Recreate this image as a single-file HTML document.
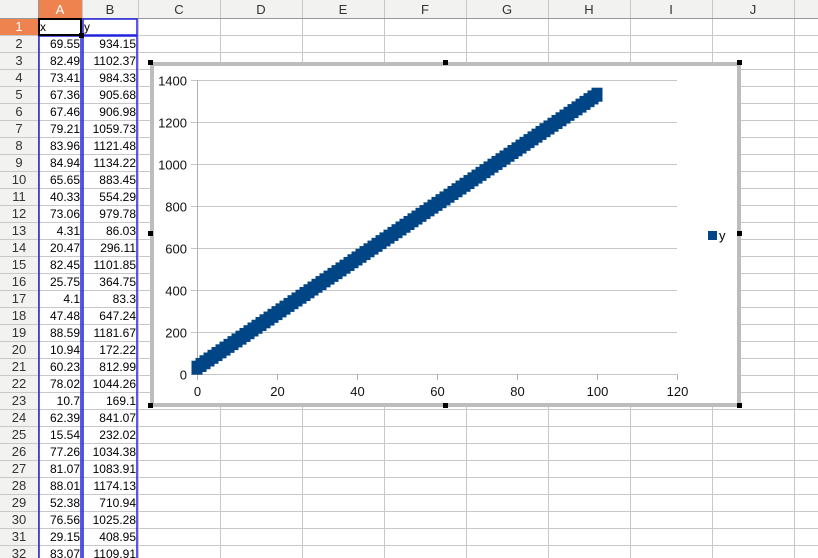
<!DOCTYPE html>
<html><head><meta charset="utf-8"><style>
body{margin:0;width:818px;height:558px;overflow:hidden;background:#fff;font-family:"Liberation Sans",sans-serif;}
svg{display:block}
</style></head><body>
<svg id="s" width="818" height="558"></svg>
<script>
const colNames=['A','B','C','D','E','F','G','H','I','J',''];
const colX=[38,82,138,220,302,384,466,548,630,712,794,818];
const tableX=[69.55,82.49,73.41,67.36,67.46,79.21,83.96,84.94,65.65,40.33,73.06,4.31,20.47,82.45,25.75,4.1,47.48,88.59,10.94,60.23,78.02,10.7,62.39,15.54,77.26,81.07,88.01,52.38,76.56,29.15,83.07];
const tableY=[934.15,1102.37,984.33,905.68,906.98,1059.73,1121.48,1134.22,883.45,554.29,979.78,86.03,296.11,1101.85,364.75,83.3,647.24,1181.67,172.22,812.99,1044.26,169.1,841.07,232.02,1034.38,1083.91,1174.13,710.94,1025.28,408.95,1109.91];
const seriesX=[0,1,2,3,4,5,6,7,8,9,10,11,12,13,14,15,16,17,18,19,20,21,22,23,24,25,26,27,28,29,30,31,32,33,34,35,36,37,38,39,40,41,42,43,44,45,46,47,48,49,50,51,52,53,54,55,56,57,58,59,60,61,62,63,64,65,66,67,68,69,70,71,72,73,74,75,76,77,78,79,80,81,82,83,84,85,86,87,88,89,90,91,92,93,94,95,96,97,98,99,100];
const seriesY=[30,43,56,69,82,95,108,121,134,147,160,173,186,199,212,225,238,251,264,277,290,303,316,329,342,355,368,381,394,407,420,433,446,459,472,485,498,511,524,537,550,563,576,589,602,615,628,641,654,667,680,693,706,719,732,745,758,771,784,797,810,823,836,849,862,875,888,901,914,927,940,953,966,979,992,1005,1018,1031,1044,1057,1070,1083,1096,1109,1122,1135,1148,1161,1174,1187,1200,1213,1226,1239,1252,1265,1278,1291,1304,1317,1330];
const xTicks=[0,20,40,60,80,100,120];
const yTicks=[0,200,400,600,800,1000,1200,1400];

const NS='http://www.w3.org/2000/svg';
const s=document.getElementById('s');
function mk(t,a,p){const e=document.createElementNS(NS,t);for(const k in a)e.setAttribute(k,a[k]);(p||s).appendChild(e);return e;}
const RH=17,TOP=18;
mk('rect',{x:0,y:0,width:818,height:TOP,fill:'#f2f2f0'});
mk('rect',{x:0,y:0,width:38,height:558,fill:'#f2f2f0'});
mk('rect',{x:38,y:0,width:44,height:TOP,fill:'#ef8350'});
mk('rect',{x:0,y:TOP,width:38,height:RH,fill:'#ef8350'});
for(let i=0;i<colX.length;i++){
  mk('line',{x1:colX[i]+.5,y1:0,x2:colX[i]+.5,y2:558,stroke:i==0?'#999':'#c8c8c8'});
}
for(let r=0;r<=32;r++){const y=TOP+r*RH+.5;mk('line',{x1:0,y1:y,x2:818,y2:y,stroke:r==0?'#999':'#c8c8c8'});}
for(let i=0;i<colNames.length;i++){
  const t=mk('text',{x:(colX[i]+colX[i+1])/2,y:14,'text-anchor':'middle','font-size':13,fill:i==0?'#fff':'#333'});t.textContent=colNames[i];
  
  
}
for(let r=1;r<=32;r++){
  const t=mk('text',{x:19,y:TOP+r*RH-4,'text-anchor':'middle','font-size':13,fill:r==1?'#fff':'#333'});t.textContent=r;
  
  
}
let h=mk('text',{x:40,y:TOP+13,'font-size':12});h.textContent='x';

h=mk('text',{x:84,y:TOP+13,'font-size':12});h.textContent='y';

for(let i=0;i<tableX.length;i++){
  const y=TOP+(i+2)*RH-4;
  let a=mk('text',{x:80,y:y,'text-anchor':'end','font-size':12});a.textContent=tableX[i];
  
  let b=mk('text',{x:136,y:y,'text-anchor':'end','font-size':12});b.textContent=tableY[i];
  
}
mk('rect',{x:39,y:36,width:42,height:540,fill:'none',stroke:'#2222dd','stroke-width':1.5});
mk('rect',{x:83,y:36,width:54,height:540,fill:'none',stroke:'#2222dd','stroke-width':1.5});
mk('rect',{x:83,y:19,width:54,height:16,fill:'none',stroke:'#2222dd','stroke-width':1.5});
mk('rect',{x:39,y:19,width:42,height:16,fill:'none',stroke:'#000','stroke-width':2});
mk('rect',{x:79,y:33,width:5,height:5,fill:'#000'});

const g=mk('g',{});

mk('rect',{x:152,y:64,width:587,height:341,fill:'#fff',stroke:'#bdbdbd','stroke-width':4},g);
const px=v=>197+v*4, py=v=>374-v*0.21;
for(const t of yTicks){
  const y=Math.round(py(t))+.5;
  mk('line',{x1:px(0)-6,y1:y,x2:px(120),y2:y,stroke:'#c6c6c6'},g);
  const tx=mk('text',{x:187,y:y+5,'text-anchor':'end','font-size':13,fill:'#111'},g);tx.textContent=t;
  
}
mk('line',{x1:px(0)+.5,y1:py(1400),x2:px(0)+.5,y2:py(0)+6,stroke:'#b0b0b0'},g);
for(const t of xTicks){
  const x=Math.round(px(t))+.5;
  mk('line',{x1:x,y1:py(0),x2:x,y2:py(0)+6,stroke:'#b0b0b0'},g);
  const tx=mk('text',{x:x,y:396,'text-anchor':'middle','font-size':13,fill:'#111'},g);tx.textContent=t;
  
}
for(let i=0;i<seriesX.length;i++){
  const m=mk('rect',{x:px(seriesX[i])-5.5,y:py(seriesY[i])-7,width:11,height:14,fill:'#004586'},g);
  
  
}
const lg=mk('rect',{x:708,y:231,width:9,height:9,fill:'#004586'},g);

const lt=mk('text',{x:719,y:240,'font-size':13},g);lt.textContent='y';

for(const [x,y] of [[150,62],[445,62],[739,62],[150,233],[739,233],[150,405],[445,405],[739,405]]){
  mk('rect',{x:x-2,y:y-2,width:5,height:5,fill:'#000'},g);
}
</script>
</body></html>
